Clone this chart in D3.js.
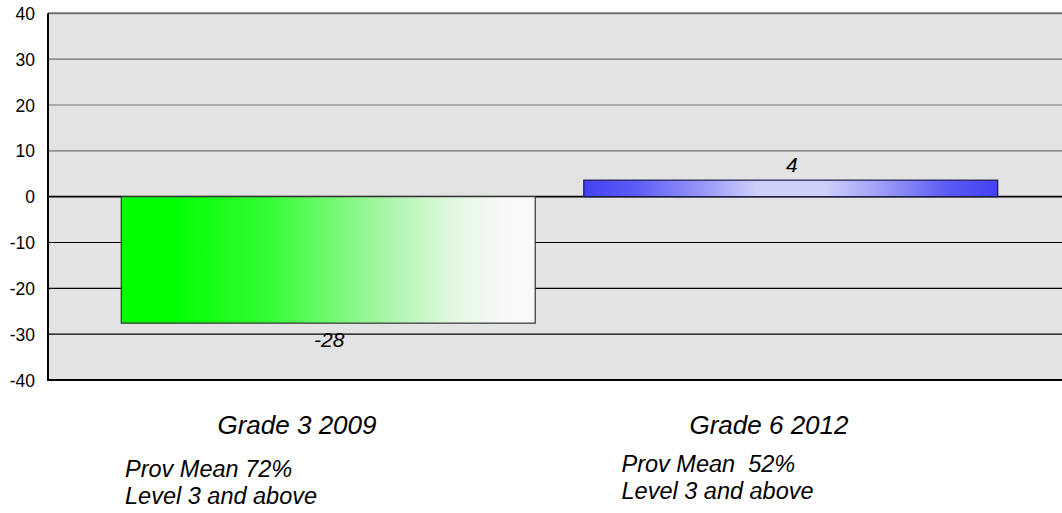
<!DOCTYPE html>
<html><head><meta charset="utf-8">
<script src="https://cdn.jsdelivr.net/npm/d3@7"></script>
<style>body{margin:0;background:#fff}svg{display:block;font-family:"Liberation Sans",Arial,sans-serif}</style>
</head><body><svg id="c" width="1062" height="513"></svg>
<script>
const categories = ["Grade 3 2009", "Grade 6 2012"];
const values = [-27.6, 3.6];
const valueLabels = ["-28", "4"];
const subLabels = [["Prov Mean 72%", "Level 3 and above"], ["Prov Mean  52%", "Level 3 and above"]];
const yTicks = [40, 30, 20, 10, 0, -10, -20, -30, -40];

const svg = d3.select("#c");
const plotL = 48, plotR = 1062, plotT = 13.3, plotB = 380;
const y = d3.scaleLinear().domain([-40, 40]).range([plotB, plotT]);
const x = d3.scaleBand().domain(categories).range([97, 1022]).paddingInner(0.105).paddingOuter(0.0525);
const xl = d3.scaleBand().domain(categories).range([61, 1005]);

const defs = svg.append("defs");
const g1 = defs.append("linearGradient").attr("id", "gGreen");
[[0,"#00ff00"],[0.12,"#00ff00"],[0.35,"#33fb33"],[0.5,"#6ff86f"],[0.65,"#adf5ad"],[0.8,"#e0f8e0"],[0.92,"#f8f8f8"],[1,"#fafafa"]]
  .forEach(([o,c]) => g1.append("stop").attr("offset", o).attr("stop-color", c));
const g2 = defs.append("linearGradient").attr("id", "gBlue");
[[0,"#4242f4"],[0.12,"#5a5af5"],[0.3,"#9c9cf8"],[0.42,"#cfd0fa"],[0.58,"#cfd0fa"],[0.72,"#9c9cf8"],[0.88,"#5a5af5"],[1,"#4242f4"]]
  .forEach(([o,c]) => g2.append("stop").attr("offset", o).attr("stop-color", c));

svg.append("rect").attr("x", plotL).attr("y", plotT).attr("width", plotR - plotL).attr("height", plotB - plotT).attr("fill", "#e3e3e3");

svg.append("g").selectAll("line").data(yTicks).join("line")
  .attr("x1", plotL).attr("x2", plotR)
  .attr("y1", d => y(d)).attr("y2", d => y(d))
  .attr("stroke", d => d > 0 ? "#707070" : "#000")
  .attr("stroke-width", d => (d === 40 || d === -40) ? 2 : (d === 0 ? 1.6 : 1.2));

svg.append("line").attr("x1", plotL).attr("x2", plotL).attr("y1", plotT).attr("y2", plotB + 1).attr("stroke", "#000").attr("stroke-width", 2);

const yAxis = d3.axisLeft(y).tickValues(yTicks).tickFormat(d => String(d)).tickSize(0).tickPadding(0);
const ya = svg.append("g").attr("transform", "translate(35,0)").call(yAxis);
ya.select(".domain").remove();
ya.selectAll("text").attr("font-size", "17.5px").attr("fill", "#000").attr("font-family", "Liberation Sans, Arial, sans-serif").attr("dy", "0.35em");

svg.append("g").selectAll("rect").data(categories).join("rect")
  .attr("x", d => x(d)).attr("width", x.bandwidth())
  .attr("y", (d, i) => y(Math.max(0, values[i])))
  .attr("height", (d, i) => Math.abs(y(values[i]) - y(0)))
  .attr("fill", (d, i) => values[i] < 0 ? "url(#gGreen)" : "url(#gBlue)")
  .attr("stroke", (d, i) => values[i] < 0 ? "#333" : "#1a1a50").attr("stroke-width", 1.2);

svg.append("g").selectAll("text").data(categories).join("text")
  .attr("x", d => x(d) + x.bandwidth() / 2 + 1)
  .attr("y", (d, i) => values[i] < 0 ? y(values[i]) + 24 : y(values[i]) - 8)
  .attr("text-anchor", "middle").attr("font-style", "italic").attr("font-size", "21px")
  .text((d, i) => valueLabels[i]);

svg.append("g").selectAll("text").data(categories).join("text")
  .attr("x", d => xl(d) + xl.bandwidth() / 2).attr("y", 434)
  .attr("text-anchor", "middle").attr("font-style", "italic").attr("font-size", "26px")
  .text(d => d);

const subX = [125, 621.5], subY = [477, 472];
categories.forEach((c, i) => {
  const t = svg.append("text").attr("font-style", "italic").attr("font-size", "23.5px").style("white-space", "pre");
  subLabels[i].forEach((s, j) => t.append("tspan").attr("x", subX[i]).attr("y", subY[i] + j * 26.5).text(s));
});
</script></body></html>
